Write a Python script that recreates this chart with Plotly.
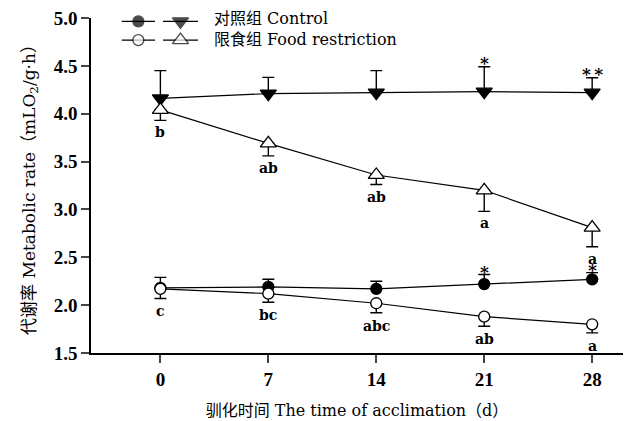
import plotly.graph_objects as go

# Acclimation days
days = [0, 7, 14, 21, 28]

# Metabolic rate (mLO2/g·h) and SE, control vs food restriction
ctrl_tri = [4.16, 4.21, 4.22, 4.23, 4.22]
ctrl_tri_err = [0.29, 0.17, 0.23, 0.26, 0.155]
food_tri = [4.04, 3.69, 3.36, 3.20, 2.81]
food_tri_err = [0.11, 0.13, 0.10, 0.22, 0.20]

ctrl_cir = [2.18, 2.19, 2.17, 2.22, 2.27]
ctrl_cir_err = [0.11, 0.08, 0.08, 0.10, 0.07]
food_cir = [2.17, 2.12, 2.02, 1.88, 1.80]
food_cir_err = [0.10, 0.09, 0.10, 0.10, 0.09]

# Significance letters / asterisks
food_tri_letters = ["b", "ab", "ab", "a", "a"]
food_cir_letters = ["c", "bc", "abc", "ab", "a"]
ctrl_tri_sig = ["", "", "", "*", "*\u2009*"]
ctrl_cir_sig = ["", "", "", "*", "*"]

y_ticks = [1.5, 2.0, 2.5, 3.0, 3.5, 4.0, 4.5, 5.0]
x_ticks = [0, 7, 14, 21, 28]

legend_ctrl = "对照组 Control"
legend_food = "限食组 Food restriction"
x_title = "驯化时间 The time of acclimation（d）"
y_title = "代谢率 Metabolic rate（mLO<sub>2</sub>/g·h）"

FONT = "DejaVu Serif, Noto Sans CJK SC, serif"
TICK_FONT = "Liberation Serif, serif"
BLACK = "black"

fig = go.Figure()


def add_series(y, err, up, symbol, filled, size):
    fig.add_trace(go.Scatter(
        x=days, y=y, mode="lines+markers",
        line=dict(color=BLACK, width=1.2),
        marker=dict(symbol=symbol, size=size,
                    color=BLACK if filled else "white",
                    line=dict(color=BLACK, width=1.3)),
        error_y=dict(type="data", symmetric=False,
                     array=err if up else [0] * len(err),
                     arrayminus=[0] * len(err) if up else err,
                     color=BLACK, thickness=1.4, width=6),
        showlegend=False, cliponaxis=False,
    ))


add_series(ctrl_tri, ctrl_tri_err, True, "triangle-down", True, 14)
add_series(food_tri, food_tri_err, False, "triangle-up", False, 14)
add_series(ctrl_cir, ctrl_cir_err, True, "circle", True, 11)
add_series(food_cir, food_cir_err, False, "circle", False, 11)

letter_font = dict(family=FONT, size=14, color=BLACK, weight="bold")
star_font = dict(family=FONT, size=17, color=BLACK, weight="bold")


def below(vals, errs, labels, shift):
    for d, v, e, t in zip(days, vals, errs, labels):
        if t:
            fig.add_annotation(x=d, y=v - e, text=t, showarrow=False,
                               yanchor="middle", yshift=shift, font=letter_font)


def above(vals, errs, labels, shift):
    for d, v, e, t in zip(days, vals, errs, labels):
        if t:
            fig.add_annotation(x=d, y=v + e, text=t, showarrow=False,
                               yanchor="middle", yshift=shift, font=star_font)


below(food_tri, food_tri_err, food_tri_letters, -12)
below(food_cir, food_cir_err, food_cir_letters, -13)
above(ctrl_tri, ctrl_tri_err, ctrl_tri_sig, 4)
above(ctrl_cir, ctrl_cir_err, ctrl_cir_sig, 3)

# Legend glyphs drawn on an overlay axis spanning the plot area
def legend_glyph(x0, x1, yrow, symbol, filled, size):
    xc = (x0 + x1) / 2
    fig.add_trace(go.Scatter(
        x=[x0, xc, x1], y=[yrow] * 3, mode="lines+markers",
        xaxis="x2", yaxis="y2",
        line=dict(color=BLACK, width=1.2),
        marker=dict(symbol=symbol, size=[0, size, 0],
                    color=BLACK if filled else "white",
                    line=dict(color=BLACK, width=[0, 1.3, 0])),
        showlegend=False, cliponaxis=False, hoverinfo="skip",
    ))


row1, row2 = 0.99, 0.934
legend_glyph(0.0577, 0.1203, row1, "circle", True, 11)
legend_glyph(0.1353, 0.2011, row1, "triangle-down", True, 14)
legend_glyph(0.0577, 0.1203, row2, "circle", False, 11)
legend_glyph(0.1353, 0.2011, row2, "triangle-up", False, 14)
for yrow, txt in [(row1 + 0.01, legend_ctrl), (row2 + 0.003, legend_food)]:
    fig.add_annotation(x=0.2274, y=yrow, xref="x2", yref="y2", text=txt,
                       showarrow=False, xanchor="left", yanchor="middle",
                       font=dict(family=FONT, size=16, color=BLACK))

tick_font = dict(family=TICK_FONT, size=19, color=BLACK, weight="bold")

fig.update_layout(
    width=632, height=421,
    margin=dict(l=91, r=9, t=18, b=68),
    paper_bgcolor="white", plot_bgcolor="white",
    font=dict(family=FONT, size=16, color=BLACK),
    xaxis=dict(range=[-4.5, 30], tickvals=x_ticks, ticks="outside",
               ticklen=8, tickwidth=1.5, showline=True, linecolor=BLACK,
               linewidth=1.5, showgrid=False, zeroline=False,
               tickfont=tick_font, automargin=False,
               title=dict(text=x_title, standoff=16,
                          font=dict(family=FONT, size=16))),
    yaxis=dict(range=[1.5, 5.0], tickvals=y_ticks,
               ticktext=[f"{v:.1f}" for v in y_ticks], ticks="outside",
               ticklen=8, tickwidth=1.5, showline=True, linecolor=BLACK,
               linewidth=1.5, showgrid=False, zeroline=False,
               tickfont=tick_font, automargin=False,
               title=dict(text=y_title, standoff=14,
                          font=dict(family=FONT, size=17))),
    xaxis2=dict(overlaying="x", range=[0, 1], visible=False),
    yaxis2=dict(overlaying="y", range=[0, 1], visible=False),
)

fig.write_html("out.html")
